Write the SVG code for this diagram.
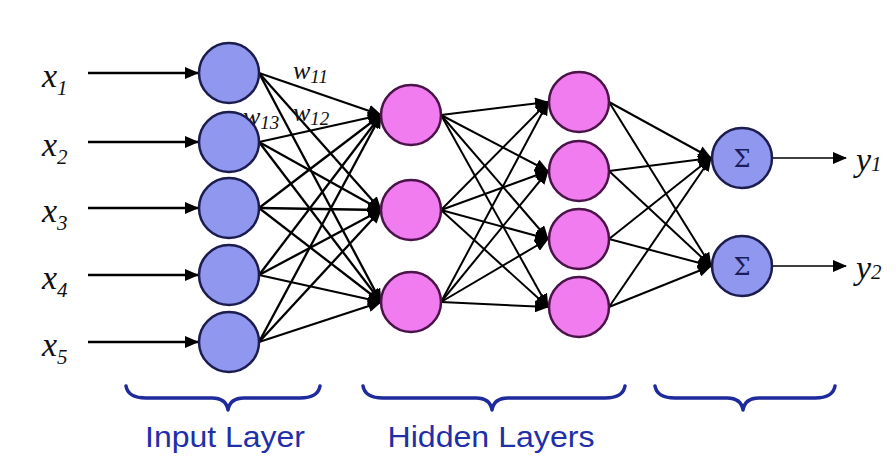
<svg xmlns="http://www.w3.org/2000/svg" width="896" height="476" viewBox="0 0 896 476">
<defs>
<marker id="ah" markerUnits="userSpaceOnUse" markerWidth="14" markerHeight="12" viewBox="0 0 14 12" refX="13" refY="6" orient="auto"><path d="M0,0 L14,6 L0,12 Z" fill="#000"/></marker>
<style>
.in{fill:#8f97ee;stroke:#1c1c4e;stroke-width:2.5}
.hid{fill:#f07cf0;stroke:#4a1448;stroke-width:2.5}
.c1{stroke:#000;stroke-width:2.3;fill:none;marker-end:url(#ah)}
.c2{stroke:#000;stroke-width:2;fill:none;marker-end:url(#ah)}
.lab{font-family:"Liberation Serif","Times New Roman",serif;font-style:italic;fill:#111}
.brace{fill:none;stroke:#1f2a9c;stroke-width:3.5;stroke-linecap:round;stroke-linejoin:round}
.lt{font-family:"Liberation Sans",Arial,sans-serif;font-size:30px;fill:#1f2fa8}
.sig{font-family:"DejaVu Serif","Liberation Serif",serif;font-size:24px;fill:#1c1c5a}
</style>
</defs>
<rect width="896" height="476" fill="#fff"/>
<g id="connectors">
<g class="c1">
<line x1="88" y1="73" x2="198" y2="73"/>
<line x1="88" y1="142" x2="198" y2="142"/>
<line x1="88" y1="208" x2="198" y2="208"/>
<line x1="88" y1="275" x2="198" y2="275"/>
<line x1="88" y1="342" x2="198" y2="342"/>
<line x1="259" y1="73" x2="381" y2="115"/>
<line x1="259" y1="73" x2="381" y2="210"/>
<line x1="259" y1="73" x2="381" y2="302"/>
<line x1="259" y1="142" x2="381" y2="115"/>
<line x1="259" y1="142" x2="381" y2="210"/>
<line x1="259" y1="142" x2="381" y2="302"/>
<line x1="259" y1="208" x2="381" y2="115"/>
<line x1="259" y1="208" x2="381" y2="210"/>
<line x1="259" y1="208" x2="381" y2="302"/>
<line x1="259" y1="275" x2="381" y2="115"/>
<line x1="259" y1="275" x2="381" y2="210"/>
<line x1="259" y1="275" x2="381" y2="302"/>
<line x1="259" y1="342" x2="381" y2="115"/>
<line x1="259" y1="342" x2="381" y2="210"/>
<line x1="259" y1="342" x2="381" y2="302"/>
</g>
<g class="c2">
<line x1="441" y1="115" x2="548" y2="102"/>
<line x1="441" y1="115" x2="548" y2="171"/>
<line x1="441" y1="115" x2="548" y2="239"/>
<line x1="441" y1="115" x2="548" y2="307"/>
<line x1="441" y1="210" x2="548" y2="102"/>
<line x1="441" y1="210" x2="548" y2="171"/>
<line x1="441" y1="210" x2="548" y2="239"/>
<line x1="441" y1="210" x2="548" y2="307"/>
<line x1="441" y1="302" x2="548" y2="102"/>
<line x1="441" y1="302" x2="548" y2="171"/>
<line x1="441" y1="302" x2="548" y2="239"/>
<line x1="441" y1="302" x2="548" y2="307"/>
<line x1="609" y1="102" x2="711" y2="158"/>
<line x1="609" y1="102" x2="711" y2="266"/>
<line x1="609" y1="171" x2="711" y2="158"/>
<line x1="609" y1="171" x2="711" y2="266"/>
<line x1="609" y1="239" x2="711" y2="158"/>
<line x1="609" y1="239" x2="711" y2="266"/>
<line x1="609" y1="307" x2="711" y2="158"/>
<line x1="609" y1="307" x2="711" y2="266"/>
</g>
<g stroke="#000" stroke-width="1.5" marker-end="url(#ah)">
<line x1="773" y1="158" x2="846" y2="158"/>
<line x1="773" y1="266" x2="846" y2="266"/>
</g>
</g>
<g id="input-labels">
<text class="lab" x="42" y="87" font-size="34">x<tspan font-size="21" dy="8">1</tspan></text>
<text class="lab" x="42" y="156" font-size="34">x<tspan font-size="21" dy="8">2</tspan></text>
<text class="lab" x="42" y="222" font-size="34">x<tspan font-size="21" dy="8">3</tspan></text>
<text class="lab" x="42" y="289" font-size="34">x<tspan font-size="21" dy="8">4</tspan></text>
<text class="lab" x="42" y="356" font-size="34">x<tspan font-size="21" dy="8">5</tspan></text>
</g>
<g id="weights">
<text class="lab" x="293" y="79" font-size="26">w<tspan font-size="19" dy="4">11</tspan></text>
<text class="lab" x="243" y="125" font-size="26">w<tspan font-size="19" dy="4">13</tspan></text>
<text class="lab" x="293" y="121" font-size="26">w<tspan font-size="19" dy="4">12</tspan></text>
</g>
<g id="in1"><circle class="in" cx="229" cy="73" r="30"/></g>
<g id="in2"><circle class="in" cx="229" cy="142" r="30"/></g>
<g id="in3"><circle class="in" cx="229" cy="208" r="30"/></g>
<g id="in4"><circle class="in" cx="229" cy="275" r="30"/></g>
<g id="in5"><circle class="in" cx="229" cy="342" r="30"/></g>
<g id="h1a"><circle class="hid" cx="411" cy="115" r="30"/></g>
<g id="h1b"><circle class="hid" cx="411" cy="210" r="30"/></g>
<g id="h1c"><circle class="hid" cx="411" cy="302" r="30"/></g>
<g id="h2a"><circle class="hid" cx="579" cy="102" r="30"/></g>
<g id="h2b"><circle class="hid" cx="579" cy="171" r="30"/></g>
<g id="h2c"><circle class="hid" cx="579" cy="239" r="30"/></g>
<g id="h2d"><circle class="hid" cx="579" cy="307" r="30"/></g>
<g id="out1"><circle class="in" cx="742" cy="158" r="30"/><text class="sig" x="742" y="167" text-anchor="middle">Σ</text></g>
<g id="out2"><circle class="in" cx="742" cy="266" r="30"/><text class="sig" x="742" y="275" text-anchor="middle">Σ</text></g>
<g id="output-labels">
<text class="lab" x="856" y="171" font-size="34">y<tspan font-size="21">1</tspan></text>
<text class="lab" x="856" y="279" font-size="34">y<tspan font-size="21">2</tspan></text>
</g>
<g id="braces">
<path class="brace" d="M126,386 Q128,398 146,398 L212,398 Q226,398 228,410 Q230,398 244,398 L300,398 Q318,398 320,386"/>
<path class="brace" d="M363,386 Q365,398 383,398 L476,398 Q490,398 492,410 Q494,398 508,398 L605,398 Q623,398 625,386"/>
<path class="brace" d="M655,386 Q657,398 675,398 L727,398 Q741,398 743,410 Q745,398 759,398 L815,398 Q833,398 835,386"/>
</g>
<g id="layer-labels">
<text class="lt" x="225" y="447" text-anchor="middle" textLength="160" lengthAdjust="spacingAndGlyphs">Input Layer</text>
<text class="lt" x="491" y="447" text-anchor="middle" textLength="207" lengthAdjust="spacingAndGlyphs">Hidden Layers</text>
</g>
</svg>
